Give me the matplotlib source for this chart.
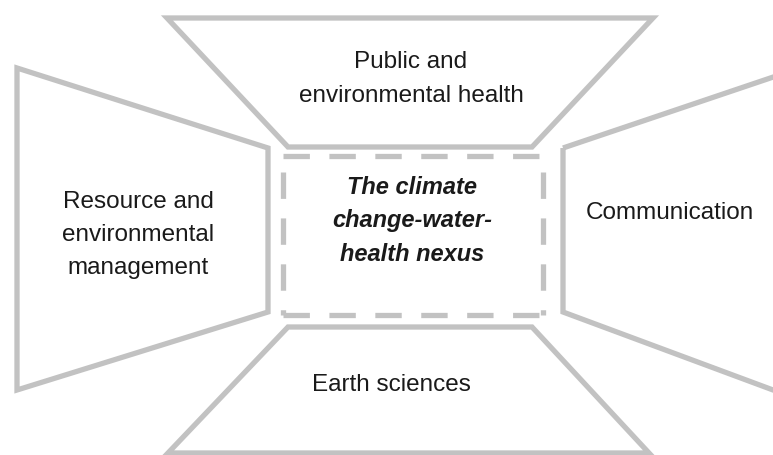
import matplotlib.pyplot as plt
from matplotlib.patches import Polygon

# shape outlines (pixel coords of the original, y down)
top_shape = [(167, 18), (653, 18), (532, 147), (288, 147)]
left_shape = [(17, 68), (268, 148), (268, 312), (17, 390)]
right_shape = [(563, 148), (800, 68), (800, 400), (563, 312)]
bottom_shape = [(288, 327), (532, 327), (649, 453), (168, 453)]
box_left, box_right, box_top, box_bottom = 283, 543, 156, 315

labels = ["Public and\nenvironmental health", "Resource and\nenvironmental\nmanagement",
          "Communication", "Earth sciences"]
label_pos = [(411, 79), (138, 235), (670, 213), (391, 385)]
center_label = "The climate\nchange-water-\nhealth nexus"
center_pos = (412, 221)

gray = "#c2c2c2"
fig = plt.figure(figsize=(7.73, 4.55), dpi=100)
ax = fig.add_axes([0, 0, 1, 1])
ax.set_xlim(0, 773)
ax.set_ylim(455, 0)
ax.axis("off")

for pts in [top_shape, left_shape, right_shape, bottom_shape]:
    ax.add_patch(Polygon(pts, closed=True, fill=False, edgecolor=gray, linewidth=3.8,
                         joinstyle="miter"))

# dashed centre box, each side drawn on its own so corners stay open like the original
dash = (0, (5, 3.7))
ax.plot([box_left, box_right], [box_top, box_top], color=gray, lw=3.8, linestyle=dash,
        solid_capstyle="butt", dash_capstyle="butt")
ax.plot([box_left, box_right], [box_bottom, box_bottom], color=gray, lw=3.8, linestyle=dash,
        dash_capstyle="butt")
ax.plot([box_left, box_left], [box_top + 16, box_bottom], color=gray, lw=3.8, linestyle=dash,
        dash_capstyle="butt")
ax.plot([box_right, box_right], [box_top + 16, box_bottom], color=gray, lw=3.8, linestyle=dash,
        dash_capstyle="butt")

for txt, (tx, ty) in zip(labels, label_pos):
    ax.text(tx, ty, txt, ha="center", va="center", fontsize=17.5, color="#1a1a1a",
            family="Liberation Sans", linespacing=1.65)

ax.text(center_pos[0], center_pos[1], center_label, ha="center", va="center", fontsize=17,
        color="#1a1a1a", family="Liberation Sans", fontweight="bold", fontstyle="italic",
        linespacing=1.6)

fig.savefig("out.png", dpi=100)
